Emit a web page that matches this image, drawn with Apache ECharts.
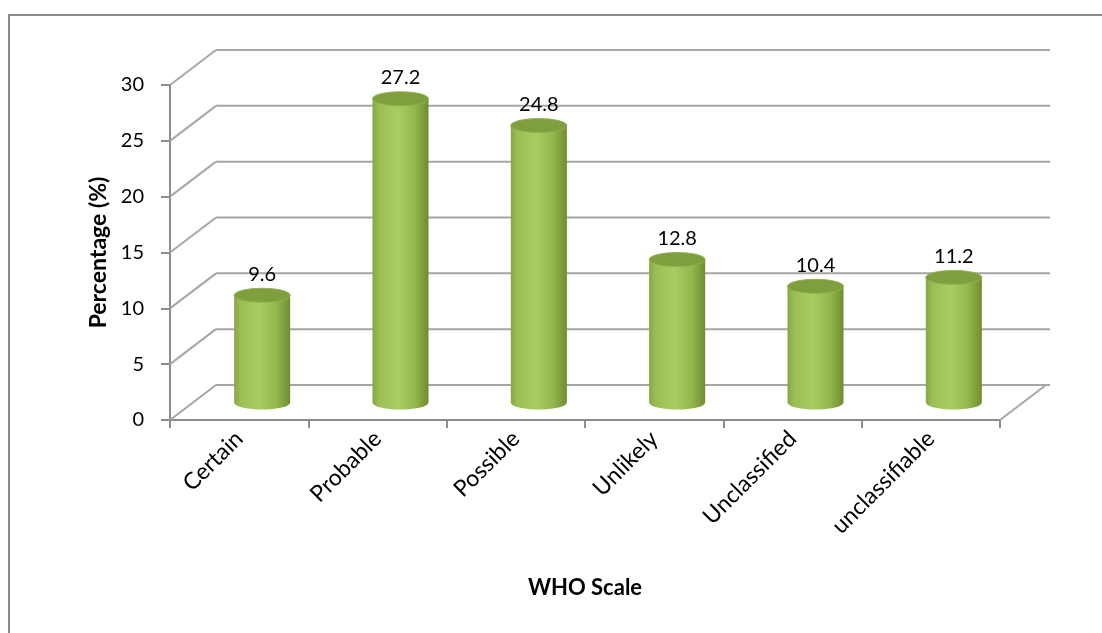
<!DOCTYPE html>
<html>
<head>
<meta charset="utf-8">
<script src="https://cdn.jsdelivr.net/npm/echarts@6/dist/echarts.min.js"></script>
<style>
  html, body { margin: 0; padding: 0; background: #fff; }
  #chart { width: 1102px; height: 633px; }
  #frame { position: absolute; left: 8px; top: 14px; width: 1102px; height: 640px;
           border-left: 2px solid #8a8a8a; border-top: 2px solid #8a8a8a; box-sizing: border-box; }
</style>
</head>
<body>
<div id="frame"></div>
<div id="chart" style="position:absolute;left:0;top:0;"></div>
<script>
// WHO causality assessment scale
const categories = ['Certain', 'Probable', 'Possible', 'Unlikely', 'Unclassified', 'unclassifiable'];
const percentages = [9.6, 27.2, 24.8, 12.8, 10.4, 11.2];
const yTicks = [0, 5, 10, 15, 20, 25, 30];

// depth of the pseudo-3D box (screen pixels)
const DEPTH_X = 46, DEPTH_Y = -35;
const FONT = 'Lato, "Open Sans", sans-serif';
const GRID_COLOR = '#a6a6a6';

const chart = echarts.init(document.getElementById('chart'));

// back wall, side wall and floor lines
function renderFrame(params, api) {
  const cs = params.coordSys;
  const v = api.value(1);
  const p = api.coord([0, v]);
  const x0 = cs.x, x1 = cs.x + cs.width, y = p[1];
  const children = [
    { type: 'line', shape: { x1: x0, y1: y, x2: x0 + DEPTH_X, y2: y + DEPTH_Y },
      style: { stroke: GRID_COLOR, lineWidth: 2 } },
    { type: 'line', shape: { x1: x0 + DEPTH_X, y1: y + DEPTH_Y, x2: x1 + DEPTH_X + 4, y2: y + DEPTH_Y },
      style: { stroke: GRID_COLOR, lineWidth: 2 } }
  ];
  if (v === 0) {
    children.push({ type: 'line', shape: { x1: x1, y1: y, x2: x1 + DEPTH_X, y2: y + DEPTH_Y },
      style: { stroke: GRID_COLOR, lineWidth: 2 } });
  }
  return { type: 'group', children };
}

// cylinders placed half way into the box depth
function renderCylinder(params, api) {
  const idx = api.value(0);
  const val = api.value(1);
  const top = api.coord([idx, val]);
  const base = api.coord([idx, 0]);
  const band = api.size([1, 0])[0];
  const w = band * 0.405;
  const rx = w / 2, ry = 7;
  const cx = top[0] + DEPTH_X / 2;
  const yt = top[1] + DEPTH_Y / 2;
  const yb = base[1] + DEPTH_Y / 2;
  const body = new echarts.graphic.LinearGradient(0, 0, 1, 0, [
    { offset: 0, color: '#86a643' },
    { offset: 0.12, color: '#9cbf55' },
    { offset: 0.45, color: '#a9cd62' },
    { offset: 0.75, color: '#94b84e' },
    { offset: 1, color: '#6f8d2f' }
  ]);
  const path = 'M' + (cx - rx) + ' ' + yt +
    ' L' + (cx - rx) + ' ' + yb +
    ' A' + rx + ' ' + ry + ' 0 0 0 ' + (cx + rx) + ' ' + yb +
    ' L' + (cx + rx) + ' ' + yt + ' Z';
  return {
    type: 'group',
    children: [
      { type: 'path', shape: { pathData: path }, style: { fill: body } },
      { type: 'ellipse', shape: { cx: cx, cy: yt, rx: rx, ry: ry },
        style: { fill: '#7f9e3d', stroke: '#93b24f', lineWidth: 1 } },
      { type: 'text', x: cx, y: yt - 11,
        style: { text: String(val), fill: '#000', font: '20px ' + FONT,
                 align: 'center', verticalAlign: 'bottom' } }
    ]
  };
}

chart.setOption({
  animation: false,
  grid: { left: 170, right: 102, top: 85, bottom: 213 },
  xAxis: {
    type: 'category',
    data: categories,
    name: 'WHO Scale',
    nameLocation: 'middle',
    nameGap: 157,
    nameTextStyle: { fontFamily: FONT, fontSize: 22, fontWeight: 'bold', color: '#000' },
    axisLine: { lineStyle: { color: '#8c8c8c', width: 2 } },
    axisTick: { show: true, length: 8, lineStyle: { color: '#8c8c8c', width: 2 } },
    axisLabel: { rotate: 45, fontFamily: FONT, fontSize: 23, color: '#000', margin: 15, interval: 0 }
  },
  yAxis: {
    type: 'value',
    min: 0, max: 30, interval: 5,
    name: 'Percentage (%)',
    nameLocation: 'middle',
    nameGap: 60,
    nameTextStyle: { fontFamily: FONT, fontSize: 23, fontWeight: 'bold', color: '#000' },
    axisLine: { show: true, lineStyle: { color: '#8c8c8c', width: 2 } },
    axisTick: { show: true, length: 9, lineStyle: { color: '#8c8c8c', width: 2 } },
    axisLabel: { fontFamily: FONT, fontSize: 20, color: '#000', margin: 26 },
    splitLine: { show: false }
  },
  series: [
    {
      type: 'custom',
      renderItem: renderFrame,
      data: yTicks.map(t => [0, t]),
      encode: { x: 0, y: 1 },
      silent: true,
      z: 1
    },
    {
      type: 'custom',
      renderItem: renderCylinder,
      data: percentages.map((v, i) => [i, v]),
      encode: { x: 0, y: 1 },
      z: 3
    }
  ]
});
</script>
</body>
</html>
